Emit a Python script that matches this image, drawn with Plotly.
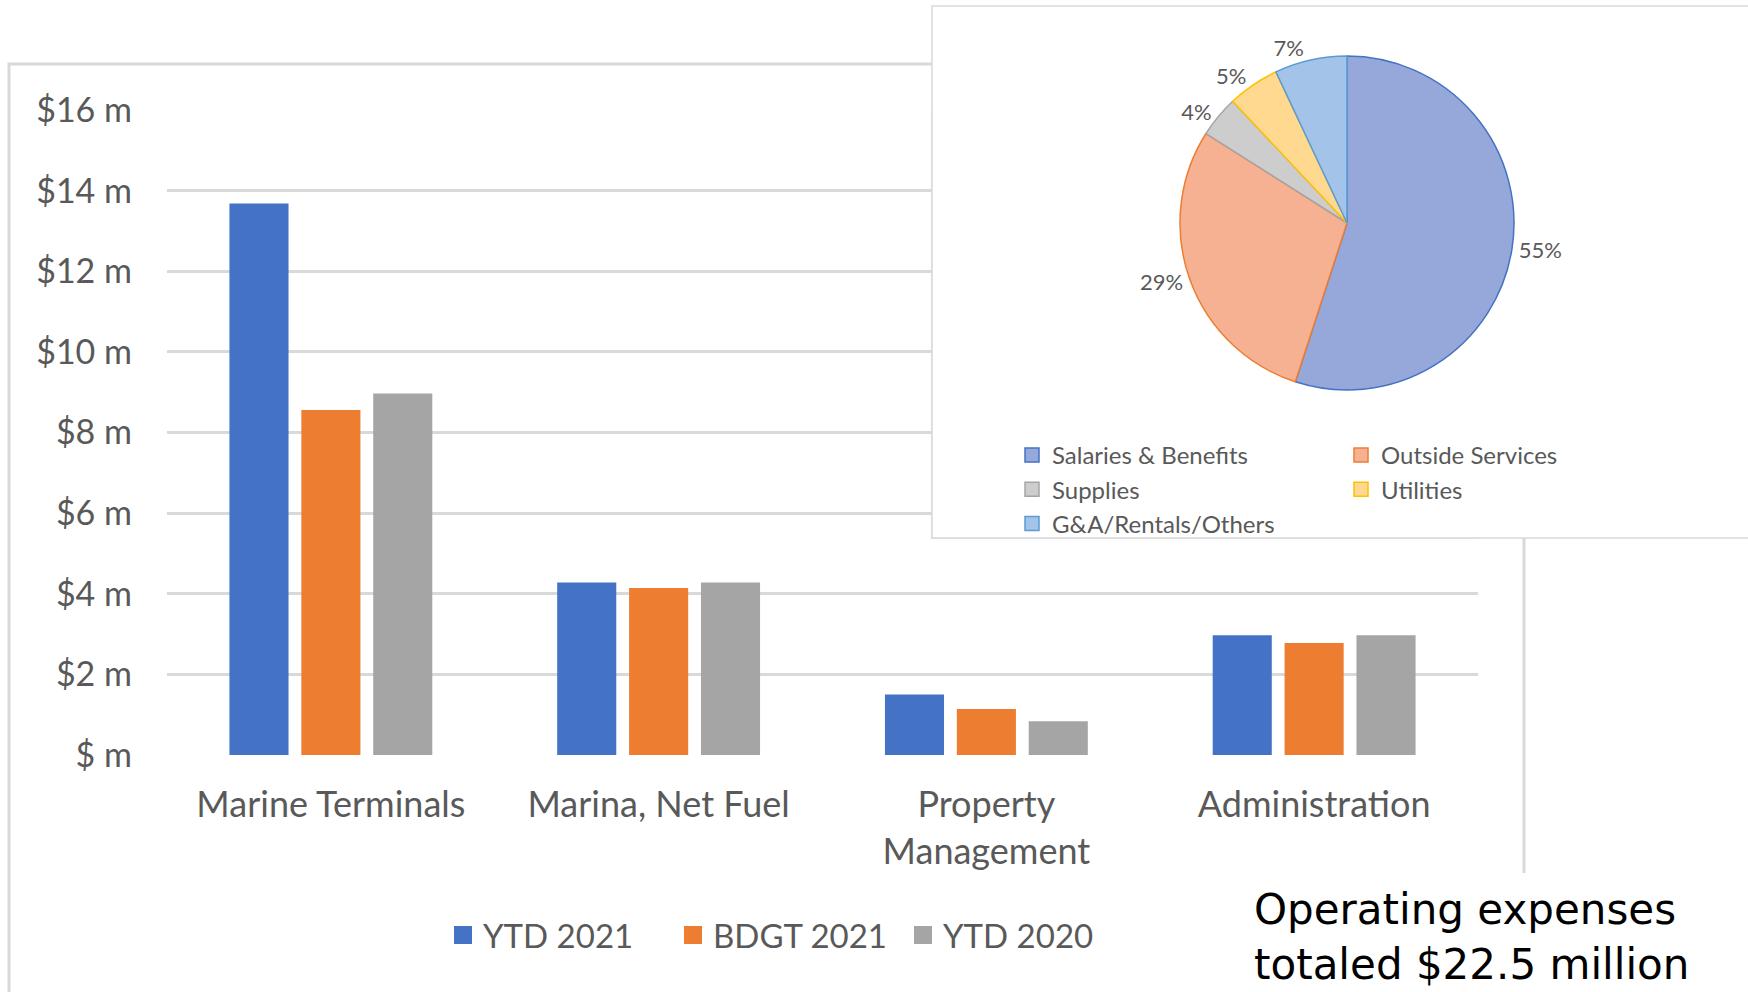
import plotly.graph_objects as go

W, H = 1748, 992

# ---------------- data ----------------
categories = ["Marine Terminals", "Marina, Net Fuel", "Property<br>Management", "Administration"]
series_names = ["YTD 2021", "BDGT 2021", "YTD 2020"]
ytd2021 = [13.68, 4.28, 1.50, 2.97]
bdgt2021 = [8.56, 4.14, 1.14, 2.78]
ytd2020 = [8.97, 4.28, 0.84, 2.97]
y_tickvals = [0, 2, 4, 6, 8, 10, 12, 14, 16]
y_ticktext = ["$ m", "$2 m", "$4 m", "$6 m", "$8 m", "$10 m", "$12 m", "$14 m", "$16 m"]

pie_labels = ["Salaries & Benefits", "Outside Services", "Supplies", "Utilities", "G&A/Rentals/Others"]
pie_values = [55, 29, 4, 5, 7]

note_text = "Operating expenses<br>totaled $22.5 million"

# ---------------- styles ----------------
bar_colors = ["#4472C4", "#ED7D31", "#A5A5A5"]
pie_fill = ["#95A8D9", "#F5B191", "#CDCDCD", "#FFD98F", "#A3C3E8"]
pie_line = ["#4472C4", "#ED7D31", "#A5A5A5", "#FFC000", "#5B9BD5"]
legend_of_slice = ["legend2", "legend3", "legend2", "legend3", "legend2"]
GRAY_TXT = "#595959"
GRID = "#D9D9D9"
FONT = "Lato"


def px(x):
    return x / W


def py(y):
    return (H - y) / H


# plot-area pixel geometry
PL, PR, PT, PB = 167, 1478, 109.2, 755.8
YR = [-0.02, 16.02]
XR = [-0.5, 3.5]


def xdata(x):
    return XR[0] + (x - PL) / (PR - PL) * (XR[1] - XR[0])


def ydata(y):
    return YR[0] + (PB - y) / (PB - PT) * (YR[1] - YR[0])


fig = go.Figure()

for name, vals, col in zip(series_names, [ytd2021, bdgt2021, ytd2020], bar_colors):
    fig.add_trace(go.Bar(
        x=categories, y=vals, name=name, showlegend=False,
        marker=dict(color=col, line=dict(width=0)),
    ))

# legend entries for the bar series (larger square swatches)
for name, col in zip(series_names, bar_colors):
    fig.add_trace(go.Scatter(
        x=[None], y=[None], mode="markers", name=name, legend="legend", hoverinfo="skip",
        marker=dict(symbol="square", size=16, color=col, line=dict(color=col, width=2)),
    ))

fig.add_trace(go.Pie(
    labels=pie_labels, values=pie_values, sort=False, direction="clockwise", rotation=0,
    marker=dict(colors=pie_fill, line=dict(color=pie_line, width=1.5)),
    textposition="outside", texttemplate="%{percent:.0%}",
    textfont=dict(family=FONT, size=22, color=GRAY_TXT),
    domain=dict(x=[px(1180), px(1514)], y=[py(390), py(56)]),
    showlegend=False,
))

for lab, fc, lc, lg in zip(pie_labels, pie_fill, pie_line, legend_of_slice):
    fig.add_trace(go.Scatter(
        x=[None], y=[None], mode="markers", name=lab, legend=lg, hoverinfo="skip",
        marker=dict(symbol="square", size=14, color=fc, line=dict(color=lc, width=1.5)),
    ))

shapes = [
    # outer border of the bar chart
    dict(type="path", xref="paper", yref="paper", layer="below",
         path=f"M {px(9)},{py(1010)} L {px(9)},{py(64)} L {px(1524)},{py(64)} L {px(1524)},{py(873)}",
         line=dict(color=GRID, width=3)),
    # pie box (paper part)
    dict(type="rect", xref="paper", yref="paper", layer="below",
         x0=px(932), x1=px(1770), y0=py(538), y1=py(6),
         fillcolor="white", line=dict(color=GRID, width=1.5)),
    # pie box covering the gridlines inside the plot area
    dict(type="rect", xref="x", yref="y", layer="between",
         x0=xdata(932), x1=xdata(1770), y0=ydata(538), y1=ydata(-20),
         fillcolor="white", line=dict(color=GRID, width=1.5)),
]

fig.update_layout(
    width=W, height=H, margin=dict(l=0, r=0, t=0, b=0),
    paper_bgcolor="white", plot_bgcolor="white",
    barmode="group", bargap=0.342, bargroupgap=0.178,
    font=dict(family=FONT, color=GRAY_TXT),
    xaxis=dict(domain=[px(PL), px(PR)], range=XR, showgrid=False, showline=False, zeroline=False,
               ticks="", tickfont=dict(size=36, color=GRAY_TXT), ticklabelstandoff=24,
               automargin=False, fixedrange=True),
    yaxis=dict(domain=[py(PB), py(PT)], range=YR, tickvals=y_tickvals, ticktext=y_ticktext,
               showgrid=True, gridcolor=GRID, gridwidth=2.5, zeroline=False, showline=False,
               ticks="", tickfont=dict(size=34, color=GRAY_TXT), ticklabelstandoff=34,
               automargin=False, fixedrange=True),
    legend=dict(orientation="h", x=px(443), xanchor="left", y=py(935), yanchor="middle",
                font=dict(size=33, color=GRAY_TXT), entrywidth=185, entrywidthmode="pixels",
                bgcolor="rgba(0,0,0,0)"),
    legend2=dict(orientation="v", x=px(1012), xanchor="left", y=py(433), yanchor="top",
                 font=dict(size=24, color=GRAY_TXT), bgcolor="rgba(0,0,0,0)"),
    legend3=dict(orientation="v", x=px(1341), xanchor="left", y=py(433), yanchor="top",
                 font=dict(size=24, color=GRAY_TXT), bgcolor="rgba(0,0,0,0)"),
    shapes=shapes,
    annotations=[dict(text=note_text, x=px(1252), y=py(937), xref="paper", yref="paper",
                      xanchor="left", yanchor="middle", align="left", showarrow=False,
                      font=dict(family="DejaVu Sans", size=42, color="black"))],
)

fig.write_html("out.html", config={"displayModeBar": False},
               post_script="document.body.style.margin='0';")
